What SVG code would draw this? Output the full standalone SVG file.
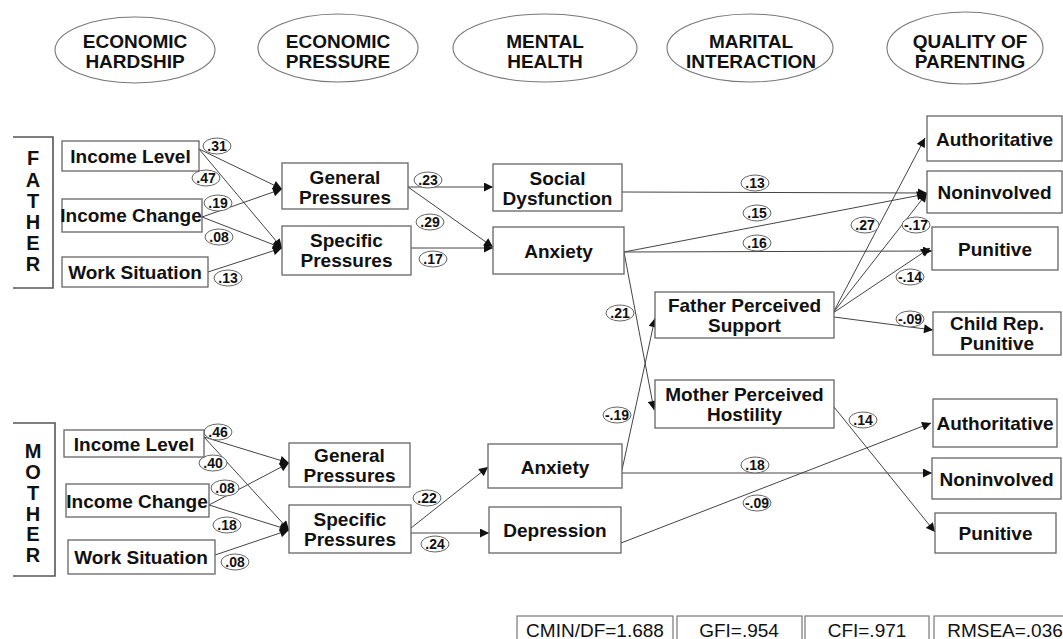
<svg xmlns="http://www.w3.org/2000/svg" width="1063" height="639" viewBox="0 0 1063 639">
<style>
.hdr{fill:#fff;stroke:#777;stroke-width:1.1}
.ht{font-family:"Liberation Sans",Arial,sans-serif;font-weight:bold;font-size:19px;fill:#111;text-anchor:middle}
.box{fill:#fff;stroke:#666;stroke-width:1.3}
.bt{font-family:"Liberation Sans",Arial,sans-serif;font-weight:bold;font-size:19px;fill:#111;text-anchor:middle}
.br{fill:none;stroke:#555;stroke-width:1.6}
.lt{font-family:"Liberation Sans",Arial,sans-serif;font-weight:bold;font-size:20px;fill:#111;text-anchor:middle}
.c{fill:none;stroke:#444;stroke-width:1;marker-end:url(#ah)}
.lo{fill:#fff;stroke:#666;stroke-width:1}
.lb{font-family:"Liberation Sans",Arial,sans-serif;font-weight:bold;font-size:14px;fill:#111;text-anchor:middle}
.fb{fill:#fff;stroke:#777;stroke-width:1.2}
.ft{font-family:"Liberation Sans",Arial,sans-serif;font-size:19px;fill:#111;text-anchor:middle}
</style>
<defs>
<marker id="ah" viewBox="0 0 10 10" refX="10" refY="5" markerWidth="11" markerHeight="9" markerUnits="userSpaceOnUse" orient="auto">
<path d="M0,0 L10,5 L0,10 z" fill="#111"/>
</marker>
</defs>
<rect width="1063" height="639" fill="#fff"/>

<!-- headers -->
<g id="hdr-hardship"><ellipse class="hdr" cx="135" cy="50" rx="80" ry="33"/><text class="ht" x="135" y="48">ECONOMIC</text><text class="ht" x="135" y="68">HARDSHIP</text></g>
<g id="hdr-pressure"><ellipse class="hdr" cx="338" cy="48" rx="80" ry="34"/><text class="ht" x="338" y="48">ECONOMIC</text><text class="ht" x="338" y="68">PRESSURE</text></g>
<g id="hdr-mental"><ellipse class="hdr" cx="545" cy="48" rx="92" ry="34"/><text class="ht" x="545" y="48">MENTAL</text><text class="ht" x="545" y="68">HEALTH</text></g>
<g id="hdr-marital"><ellipse class="hdr" cx="750" cy="48" rx="83" ry="34"/><text class="ht" x="751" y="48">MARITAL</text><text class="ht" x="751" y="68">INTERACTION</text></g>
<g id="hdr-quality"><ellipse class="hdr" cx="965" cy="48" rx="78" ry="36"/><text class="ht" x="970" y="48">QUALITY OF</text><text class="ht" x="970" y="68">PARENTING</text></g>

<!-- side brackets -->
<g id="father-label"><path class="br" d="M13,137 H53 V288 H13"/>
<text class="lt" x="33" y="165">F</text><text class="lt" x="33" y="187">A</text><text class="lt" x="33" y="208">T</text><text class="lt" x="33" y="229">H</text><text class="lt" x="33" y="250">E</text><text class="lt" x="33" y="271">R</text></g>
<g id="mother-label"><path class="br" d="M13,423 H55 V576 H13"/>
<text class="lt" x="33" y="458">M</text><text class="lt" x="33" y="479">O</text><text class="lt" x="33" y="500">T</text><text class="lt" x="33" y="521">H</text><text class="lt" x="33" y="541">E</text><text class="lt" x="33" y="562">R</text></g>

<!-- connectors -->
<g id="connectors">
<line class="c" x1="199" y1="149" x2="282" y2="189"/>
<line class="c" x1="199" y1="149" x2="282" y2="248"/>
<line class="c" x1="202" y1="217" x2="282" y2="189"/>
<line class="c" x1="202" y1="217" x2="282" y2="248"/>
<line class="c" x1="208" y1="272" x2="282" y2="248"/>
<line class="c" x1="408" y1="187" x2="493" y2="187"/>
<line class="c" x1="408" y1="187" x2="493" y2="247"/>
<line class="c" x1="411" y1="248" x2="493" y2="248"/>
<line class="c" x1="622" y1="192" x2="927" y2="193"/>
<line class="c" x1="624" y1="252" x2="926" y2="194"/>
<line class="c" x1="624" y1="252" x2="932" y2="251"/>
<line class="c" x1="624" y1="252" x2="654" y2="410"/>
<line class="c" x1="622" y1="470" x2="655" y2="318"/>
<line class="c" x1="833" y1="313" x2="925" y2="138"/>
<line class="c" x1="833" y1="313" x2="927" y2="193"/>
<line class="c" x1="833" y1="313" x2="930" y2="248"/>
<line class="c" x1="834" y1="317" x2="933" y2="330"/>
<line class="c" x1="834" y1="407" x2="935" y2="532"/>
<line class="c" x1="622" y1="473" x2="932" y2="473"/>
<line class="c" x1="621" y1="543" x2="931" y2="423"/>
<line class="c" x1="204" y1="437" x2="289" y2="463"/>
<line class="c" x1="204" y1="437" x2="289" y2="530"/>
<line class="c" x1="209" y1="505" x2="289" y2="463"/>
<line class="c" x1="209" y1="505" x2="289" y2="530"/>
<line class="c" x1="215" y1="555" x2="289" y2="530"/>
<line class="c" x1="411" y1="528" x2="488" y2="467"/>
<line class="c" x1="411" y1="533" x2="489" y2="533"/>
</g>

<!-- path coefficient labels -->
<g id="labels">
<ellipse class="lo" cx="217" cy="146" rx="14" ry="8"/><text class="lb" x="217" y="151">.31</text>
<ellipse class="lo" cx="206" cy="178" rx="14" ry="8"/><text class="lb" x="206" y="183">.47</text>
<ellipse class="lo" cx="218" cy="203" rx="14" ry="8"/><text class="lb" x="218" y="208">.19</text>
<ellipse class="lo" cx="219" cy="237" rx="14" ry="8"/><text class="lb" x="219" y="242">.08</text>
<ellipse class="lo" cx="228" cy="278" rx="14" ry="8"/><text class="lb" x="228" y="283">.13</text>
<ellipse class="lo" cx="428" cy="180" rx="14" ry="8"/><text class="lb" x="428" y="185">.23</text>
<ellipse class="lo" cx="430" cy="222" rx="14" ry="8"/><text class="lb" x="430" y="227">.29</text>
<ellipse class="lo" cx="433" cy="259" rx="14" ry="8"/><text class="lb" x="433" y="264">.17</text>
<ellipse class="lo" cx="755" cy="183" rx="14" ry="8"/><text class="lb" x="755" y="188">.13</text>
<ellipse class="lo" cx="757" cy="213" rx="14" ry="8"/><text class="lb" x="757" y="218">.15</text>
<ellipse class="lo" cx="757" cy="243" rx="14" ry="8"/><text class="lb" x="757" y="248">.16</text>
<ellipse class="lo" cx="865" cy="225" rx="14" ry="8"/><text class="lb" x="865" y="230">.27</text>
<ellipse class="lo" cx="916" cy="225" rx="14" ry="8"/><text class="lb" x="916" y="230">-.17</text>
<ellipse class="lo" cx="910" cy="277" rx="14" ry="8"/><text class="lb" x="910" y="282">-.14</text>
<ellipse class="lo" cx="910" cy="319" rx="14" ry="8"/><text class="lb" x="910" y="324">-.09</text>
<ellipse class="lo" cx="620" cy="313" rx="14" ry="8"/><text class="lb" x="620" y="318">.21</text>
<ellipse class="lo" cx="617" cy="415" rx="14" ry="8"/><text class="lb" x="617" y="420">-.19</text>
<ellipse class="lo" cx="863" cy="420" rx="14" ry="8"/><text class="lb" x="863" y="425">.14</text>
<ellipse class="lo" cx="755" cy="465" rx="14" ry="8"/><text class="lb" x="755" y="470">.18</text>
<ellipse class="lo" cx="757" cy="503" rx="14" ry="8"/><text class="lb" x="757" y="508">-.09</text>
<ellipse class="lo" cx="218" cy="432" rx="14" ry="8"/><text class="lb" x="218" y="437">.46</text>
<ellipse class="lo" cx="213" cy="463" rx="14" ry="8"/><text class="lb" x="213" y="468">.40</text>
<ellipse class="lo" cx="225" cy="488" rx="14" ry="8"/><text class="lb" x="225" y="493">.08</text>
<ellipse class="lo" cx="227" cy="525" rx="14" ry="8"/><text class="lb" x="227" y="530">.18</text>
<ellipse class="lo" cx="235" cy="562" rx="14" ry="8"/><text class="lb" x="235" y="567">.08</text>
<ellipse class="lo" cx="427" cy="498" rx="14" ry="8"/><text class="lb" x="427" y="503">.22</text>
<ellipse class="lo" cx="435" cy="544" rx="14" ry="8"/><text class="lb" x="435" y="549">.24</text>
</g>

<!-- father nodes -->
<g id="f-income-level"><rect class="box" x="62" y="141" width="137" height="30"/><text class="bt" x="130.5" y="163">Income Level</text></g>
<g id="f-income-change"><rect class="box" x="62" y="199" width="140" height="33"/><text class="bt" x="131" y="222">Income Change</text></g>
<g id="f-work"><rect class="box" x="62" y="257" width="146" height="30"/><text class="bt" x="135" y="279">Work Situation</text></g>
<g id="f-general"><rect class="box" x="282" y="163" width="126" height="46"/><text class="bt" x="345" y="183.5">General</text><text class="bt" x="345" y="203.5">Pressures</text></g>
<g id="f-specific"><rect class="box" x="282" y="226" width="129" height="49"/><text class="bt" x="346.5" y="247">Specific</text><text class="bt" x="346.5" y="267">Pressures</text></g>
<g id="f-social"><rect class="box" x="493" y="164" width="129" height="47"/><text class="bt" x="557.5" y="184.5">Social</text><text class="bt" x="557.5" y="204.5">Dysfunction</text></g>
<g id="f-anxiety"><rect class="box" x="493" y="227" width="131" height="47"/><text class="bt" x="558.5" y="258">Anxiety</text></g>
<g id="f-support"><rect class="box" x="655" y="292" width="179" height="46"/><text class="bt" x="744.5" y="312">Father Perceived</text><text class="bt" x="744.5" y="332">Support</text></g>
<g id="m-hostility"><rect class="box" x="655" y="380" width="179" height="48"/><text class="bt" x="744.5" y="401">Mother Perceived</text><text class="bt" x="744.5" y="421">Hostility</text></g>
<g id="f-authoritative"><rect class="box" x="927" y="116" width="135" height="45"/><text class="bt" x="994.5" y="145.5">Authoritative</text></g>
<g id="f-noninvolved"><rect class="box" x="927" y="171" width="135" height="42"/><text class="bt" x="994.5" y="199">Noninvolved</text></g>
<g id="f-punitive"><rect class="box" x="932" y="227" width="126" height="43"/><text class="bt" x="995" y="255.5">Punitive</text></g>
<g id="f-childrep"><rect class="box" x="933" y="312" width="128" height="43"/><text class="bt" x="997" y="330">Child Rep.</text><text class="bt" x="997" y="350">Punitive</text></g>

<!-- mother nodes -->
<g id="m-income-level"><rect class="box" x="64" y="430" width="140" height="27"/><text class="bt" x="134" y="451">Income Level</text></g>
<g id="m-income-change"><rect class="box" x="66" y="484" width="143" height="33"/><text class="bt" x="137" y="507.5">Income Change</text></g>
<g id="m-work"><rect class="box" x="68" y="540" width="147" height="34"/><text class="bt" x="141" y="564">Work Situation</text></g>
<g id="m-general"><rect class="box" x="289" y="443" width="121" height="44"/><text class="bt" x="349.5" y="462">General</text><text class="bt" x="349.5" y="482">Pressures</text></g>
<g id="m-specific"><rect class="box" x="289" y="505" width="122" height="48"/><text class="bt" x="350" y="526">Specific</text><text class="bt" x="350" y="546">Pressures</text></g>
<g id="m-anxiety"><rect class="box" x="488" y="444" width="134" height="44"/><text class="bt" x="555" y="474">Anxiety</text></g>
<g id="m-depression"><rect class="box" x="489" y="507" width="132" height="46"/><text class="bt" x="555" y="537">Depression</text></g>
<g id="m-authoritative"><rect class="box" x="933" y="399" width="124" height="48"/><text class="bt" x="995" y="430">Authoritative</text></g>
<g id="m-noninvolved"><rect class="box" x="932" y="458" width="129" height="41"/><text class="bt" x="996.5" y="485.5">Noninvolved</text></g>
<g id="m-punitive"><rect class="box" x="935" y="513" width="121" height="40"/><text class="bt" x="995.5" y="540">Punitive</text></g>

<!-- fit statistics -->
<g id="fit">
<rect class="fb" x="517" y="616" width="156" height="30"/><text class="ft" x="595" y="637">CMIN/DF=1.688</text>
<rect class="fb" x="677" y="616" width="125" height="30"/><text class="ft" x="739" y="637">GFI=.954</text>
<rect class="fb" x="805" y="616" width="124" height="30"/><text class="ft" x="867" y="637">CFI=.971</text>
<rect class="fb" x="934" y="616" width="140" height="30"/><text class="ft" x="1005" y="637">RMSEA=.036</text>
</g>
</svg>
